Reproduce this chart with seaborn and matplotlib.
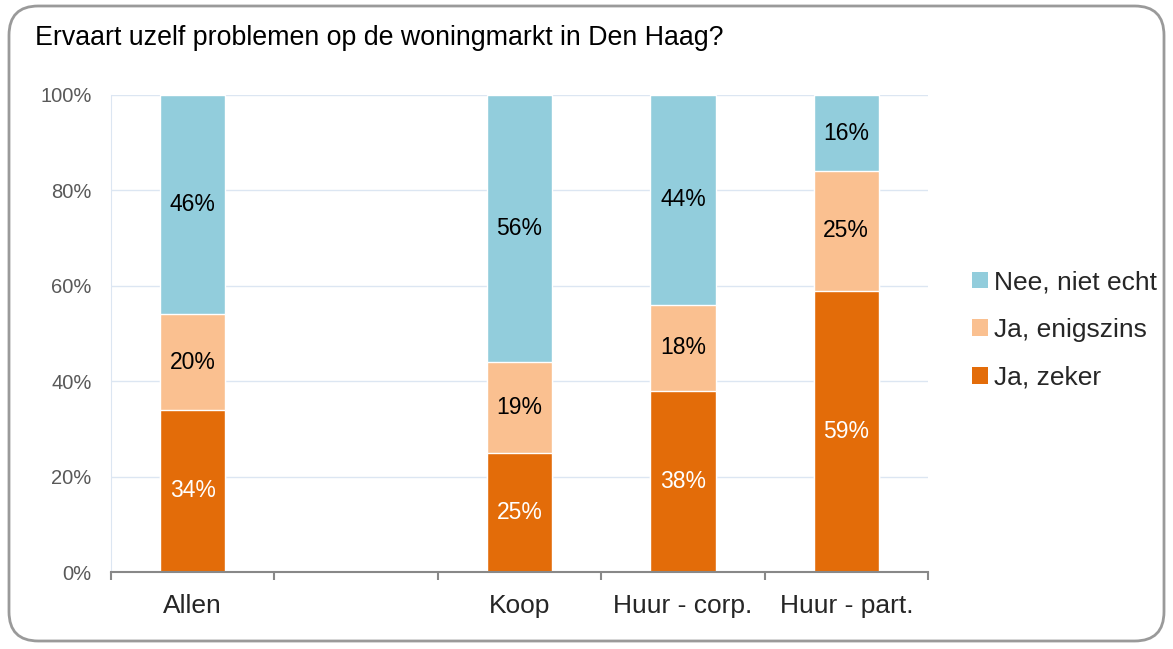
import numpy as np
import pandas as pd
import matplotlib
matplotlib.use("Agg")
import matplotlib.pyplot as plt
from matplotlib.patches import Patch, FancyBboxPatch
import seaborn as sns

categories = ["Allen", "Koop", "Huur - corp.", "Huur - part."]
slots = ["Allen", " ", "Koop", "Huur - corp.", "Huur - part."]
ja_zeker = [34, 25, 38, 59]
ja_enigszins = [20, 19, 18, 25]
nee_niet_echt = [46, 56, 44, 16]

series = ["Ja, zeker", "Ja, enigszins", "Nee, niet echt"]
colors = {"Ja, zeker": "#E36C09", "Ja, enigszins": "#FAC090", "Nee, niet echt": "#92CDDC"}
text_colors = {"Ja, zeker": "white", "Ja, enigszins": "black", "Nee, niet echt": "black"}

df = pd.DataFrame({"cat": categories, "Ja, zeker": ja_zeker,
                   "Ja, enigszins": ja_enigszins, "Nee, niet echt": nee_niet_echt})
# cumulative tops for overlaid (stacked) bars
df["top1"] = df["Ja, zeker"]
df["top2"] = df["top1"] + df["Ja, enigszins"]
df["top3"] = df["top2"] + df["Nee, niet echt"]

sns.set_style("white")
plt.rcParams["font.family"] = ["Liberation Sans", "DejaVu Sans"]

fig = plt.figure(figsize=(11.73, 6.49), dpi=100)
ax = fig.add_axes([111 / 1173, 1 - 572 / 649, (928 - 111) / 1173, (572 - 95) / 649])

for col, name in zip(["top3", "top2", "top1"], series[::-1]):
    sns.barplot(data=df, x="cat", y=col, order=slots, color=colors[name],
                width=0.4, edgecolor="white", linewidth=1, saturation=1, ax=ax)

# segment labels
for i, row in df.iterrows():
    xpos = slots.index(row["cat"])
    bottom = 0
    for name in series:
        v = row[name]
        ax.text(xpos, bottom + v / 2, f"{v}%", ha="center", va="center",
                fontsize=16.5, color=text_colors[name])
        bottom += v

ax.set_xlim(-0.5, 4.5)
ax.set_ylim(0, 100)
ax.set_yticks(range(0, 101, 20))
ax.set_yticklabels([f"{t}%" for t in range(0, 101, 20)], fontsize=14.5, color="#595959")
ax.set_xticks(range(len(slots)))
ax.set_xticklabels(slots, fontsize=19, color="#262626")
ax.set_xticks(np.arange(-0.5, 4.6, 1), minor=True)
ax.tick_params(axis="x", which="major", bottom=False, length=0, pad=16)
ax.tick_params(axis="x", which="minor", bottom=True, length=6, width=1.5,
               color="#888888", direction="out")
ax.tick_params(axis="y", length=0, pad=14)
ax.set_xlabel("")
ax.set_ylabel("")
ax.yaxis.grid(True, color="#DCE6F2", linewidth=1)
ax.set_axisbelow(True)
for s in ["top", "right"]:
    ax.spines[s].set_visible(False)
ax.spines["left"].set_color("#DCE6F2")
ax.spines["bottom"].set_color("#888888")
ax.spines["bottom"].set_linewidth(1.5)

fig.text(35 / 1173, 1 - 38 / 649, "Ervaart uzelf problemen op de woningmarkt in Den Haag?",
         fontsize=19.3, va="center", ha="left", color="black")

handles = [Patch(facecolor=colors[n], edgecolor="none") for n in series[::-1]]
fig.legend(handles, series[::-1], loc="center left", bbox_to_anchor=(948 / 1173, 1 - 330 / 649),
           frameon=False, fontsize=19, handlelength=0.6, handleheight=0.6,
           handletextpad=0.25, labelspacing=0.9, labelcolor="#262626")

border = FancyBboxPatch((9 / 1173, 8 / 649), 1155 / 1173, 635 / 649,
                        boxstyle="round,pad=0,rounding_size=0.025",
                        transform=fig.transFigure, facecolor="none",
                        edgecolor="#9A9A9A", linewidth=2, mutation_aspect=1173 / 649)
fig.patches.append(border)

fig.savefig("out.png", dpi=100)
